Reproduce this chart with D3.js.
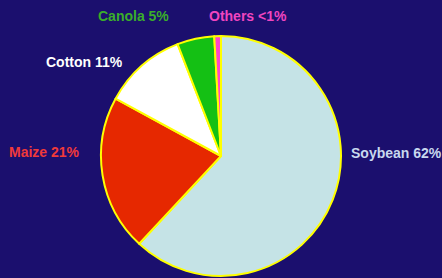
<!DOCTYPE html>
<html>
<head>
<meta charset="utf-8">
<script src="https://cdn.jsdelivr.net/npm/d3@7"></script>
<style>
  body { margin: 0; background: #1b0f6e; }
  svg { display: block; }
</style>
</head>
<body>
<svg width="442" height="278"></svg>
<script>

// crop shares, clockwise from 12 o'clock
const crops = ['Soybean', 'Maize', 'Cotton', 'Canola', 'Others'];
const shares = [62, 21, 11.2, 5, 0.9];
const labels = ['Soybean 62%', 'Maize 21%', 'Cotton 11%', 'Canola 5%', 'Others <1%'];

const fills = ['#c5e3e6', '#e62800', '#ffffff', '#14c014', '#ff44cc'];
const labelColors = ['#c8d8ee', '#f03a3a', '#ffffff', '#3aae2a', '#f045c0'];
// label anchor points (left x, baseline y)
const labelPos = [[351, 158], [9, 157], [46, 67], [98, 21], [209, 21]];

const svg = d3.select('svg');
const cx = 221, cy = 156, r = 120;

const pie = d3.pie().sort(null).value(d => d.v);
const arc = d3.arc().innerRadius(0).outerRadius(r);

const data = crops.map((c, i) => ({name: c, v: shares[i], i: i}));

const g = svg.append('g').attr('transform', `translate(${cx},${cy})`);

g.selectAll('path')
    .data(pie(data))
    .enter()
    .append('path')
        .attr('d', arc)
        .attr('fill', d => fills[d.data.i])
        .attr('stroke', '#ffff00')
        .attr('stroke-width', 2)
        .attr('stroke-linejoin', 'round');

svg.selectAll('text')
    .data(data)
    .enter()
    .append('text')
        .attr('x', d => labelPos[d.i][0])
        .attr('y', d => labelPos[d.i][1])
        .attr('fill', d => labelColors[d.i])
        .attr('font-family', 'Liberation Sans, Arial, sans-serif')
        .attr('font-weight', 'bold')
        .attr('font-size', 14)
        .text(d => labels[d.i]);

</script>
</body>
</html>
